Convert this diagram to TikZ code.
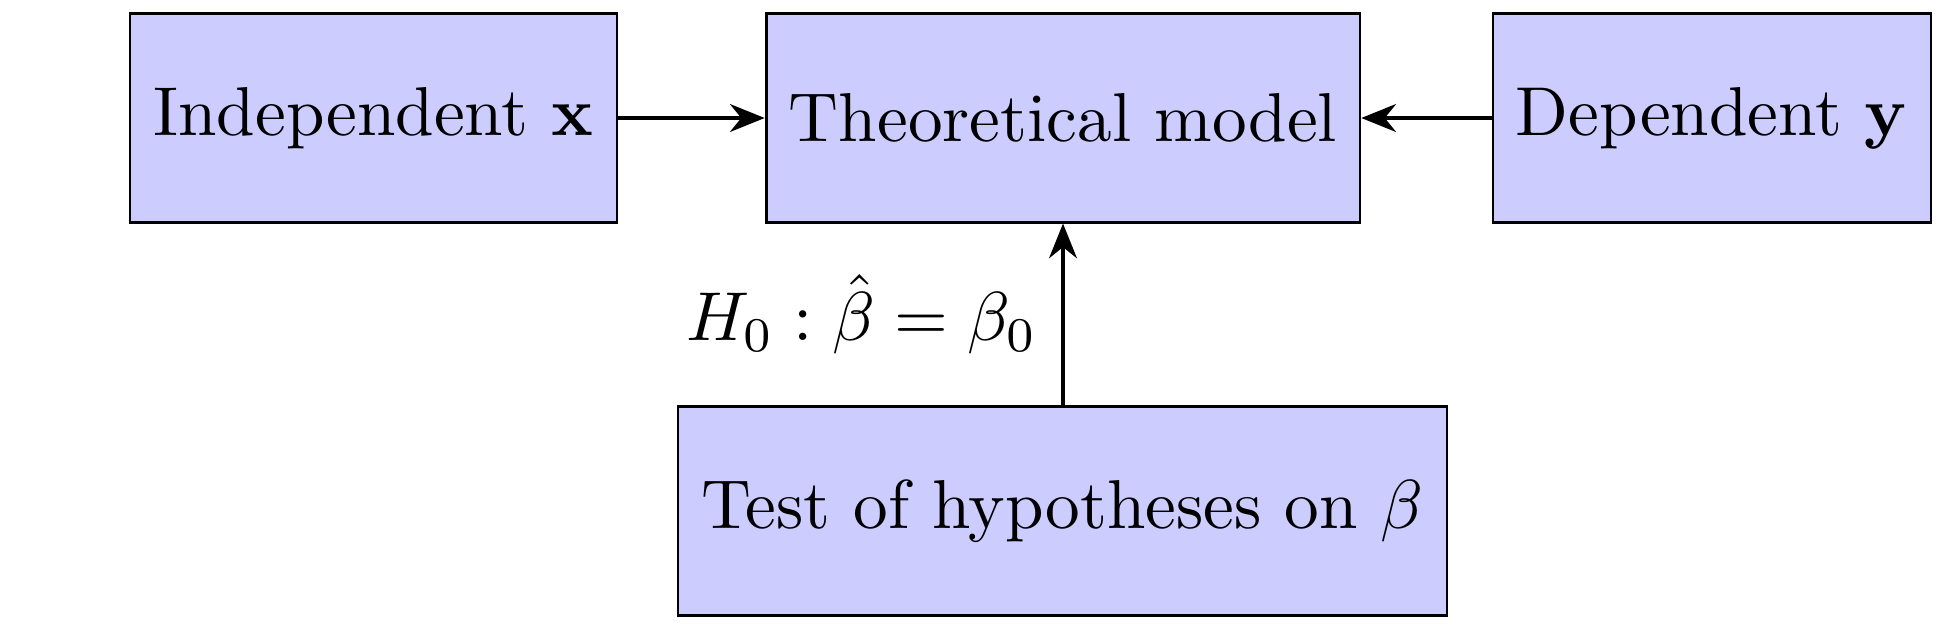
\documentclass[tikz,border=0pt]{standalone}
\usetikzlibrary{arrows.meta}
\begin{document}
\begin{tikzpicture}[x=0.1445pt,y=-0.1445pt,
  box/.style={draw=black, fill=blue!20, line width=0.4pt, rectangle, minimum height=30.1pt, inner sep=0pt},
  conn/.style={-{Stealth[length=5pt, width=4pt, inset=1.6pt]}, line width=0.65pt}]
\useasboundingbox (0,0) rectangle (1946,631);
\node[box, minimum width=70.4pt] (ind) at (373.5,118) {Independent $\mathbf{x}$};
\node[box, minimum width=85.8pt] (mod) at (1063,118) {Theoretical model};
\node[box, minimum width=63.3pt] (dep) at (1712,118) {Dependent $\mathbf{y}$};
\node[box, minimum width=111.1pt] (tst) at (1062.5,511) {Test of hypotheses on $\beta$};
\draw[conn] (ind) -- (mod);
\draw[conn] (dep) -- (mod);
\draw[conn] (tst.north -| mod.south) -- node[left] {$H_0 : \hat{\beta} = \beta_0$} (mod.south);
\end{tikzpicture}
\end{document}
